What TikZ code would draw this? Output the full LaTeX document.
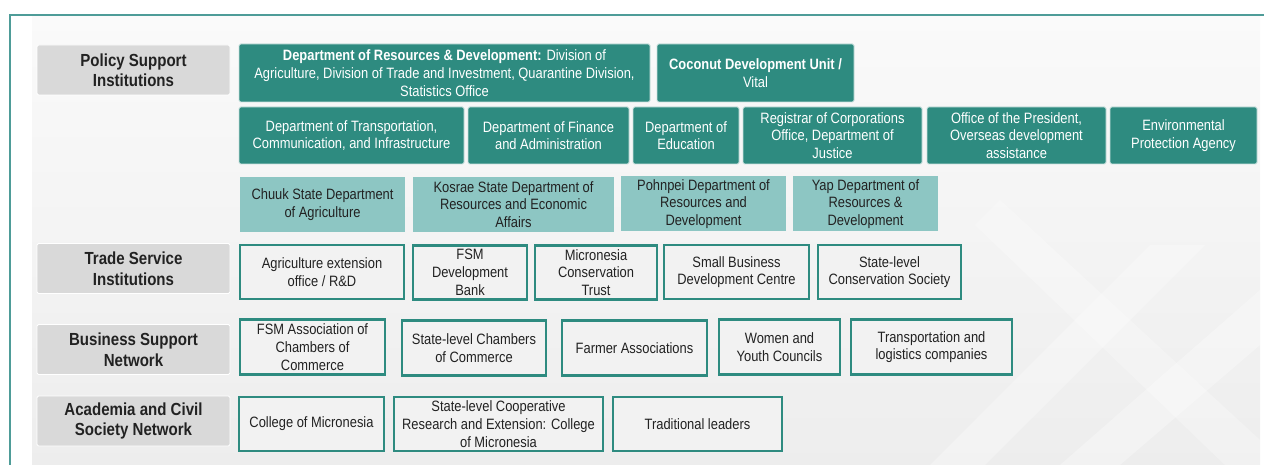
\documentclass[tikz,border=0pt]{standalone}
\usepackage{fontspec}
\setmainfont{Liberation Sans}[FakeStretch=0.86]
\usetikzlibrary{positioning}
\definecolor{darkteal}{HTML}{2E8B80}
\definecolor{paleteal}{HTML}{8DC6C3}
\definecolor{frameteal}{HTML}{4E9C98}
\definecolor{catgrey}{HTML}{D9D9D9}
\definecolor{cellgrey}{HTML}{F2F2F2}
\definecolor{ink}{HTML}{222222}
\newcommand*{\bodyfont}{\fontsize{15}{17.7}\selectfont}
\tikzset{
    cat/.style = {fill=catgrey,draw=white,line width=0.8pt,rounded corners=1.5pt,
        inner sep=0,align=center,text=ink,font=\fontsize{17.5}{20.5}\selectfont\bfseries},
    gov/.style = {fill=darkteal,draw=white!75!darkteal,line width=0.8pt,rounded corners=1.5pt,
        inner sep=0,align=center,text=white,font=\bodyfont},
    statedept/.style = {fill=paleteal,inner sep=0,align=center,text=ink,font=\bodyfont},
    inst/.style = {fill=cellgrey,draw=darkteal,line width=2.6pt,
        inner sep=0,align=center,text=ink,font=\bodyfont}
}

\begin{document}
\begin{tikzpicture}[x=1pt,y=-1pt]
    \useasboundingbox (0,0) rectangle (1264,465);
    % Panel and frame
    \shade[top color=black!2,bottom color=black!7] (32,17) rectangle (1260,465);
    \fill[white,opacity=0.3] (930,465) -- (1150,245) -- (1205,245) -- (985,465) -- cycle;
    \fill[white,opacity=0.3] (1060,465) -- (1260,290) -- (1260,345) -- (1120,465) -- cycle;
    \fill[white,opacity=0.25] (1000,200) -- (1260,440) -- (1260,465) -- (1225,465) -- (975,225) -- cycle;
    \draw[frameteal,line width=2.5pt] (10,465) -- (10,15) -- (1264,15);
    % Categories
    \foreach \name/\ypos/\txt in {policy/70/Policy Support\\Institutions,
                                 trade/268.5/Trade Service\\Institutions,
                                 business/349.5/Business Support\\Network,
                                 academia/421/Academia and Civil\\Society Network}
        \path node[cat,minimum width=193pt,minimum height=50pt] (\name) at (133.5,\ypos) {\txt};
    % National government
    \path node[gov,minimum width=411pt,minimum height=58pt] (resdev) at (444.5,73)
            {\textbf{Department of Resources \& Development:} Division of\\
             Agriculture, Division of Trade and Investment, Quarantine Division,\\
             Statistics Office}
        node[gov,minimum width=197pt,minimum height=58pt] (coconut) at (755.5,73)
            {\textbf{Coconut Development Unit /}\\Vital}
    ;
    \path node[gov,minimum width=225pt,minimum height=57pt] (transport) at (351.5,135.5)
            {Department of Transportation,\\Communication, and Infrastructure}
        node[gov,minimum width=161pt,minimum height=57pt] (finance) at (548.5,135.5)
            {Department of Finance\\and Administration}
        node[gov,minimum width=106pt,minimum height=57pt] (education) at (686,135.5)
            {Department of\\Education}
        node[gov,minimum width=179pt,minimum height=57pt] (registrar) at (832.5,135.5)
            {Registrar of Corporations\\Office, Department of\\Justice}
        node[gov,minimum width=179pt,minimum height=57pt] (president) at (1016.5,135.5)
            {Office of the President,\\Overseas development\\assistance}
        node[gov,minimum width=147pt,minimum height=57pt] (epa) at (1183.5,135.5)
            {Environmental\\Protection Agency}
    ;
    % State departments
    \path node[statedept,minimum width=165pt,minimum height=55pt] (chuuk) at (322.5,204.5)
            {Chuuk State Department\\of Agriculture}
        node[statedept,minimum width=201pt,minimum height=55pt] (kosrae) at (513.5,204.5)
            {Kosrae State Department of\\Resources and Economic\\Affairs}
        node[statedept,minimum width=165pt,minimum height=55pt] (pohnpei) at (703.5,204)
            {Pohnpei Department of\\Resources and\\Development}
        node[statedept,minimum width=145pt,minimum height=55pt] (yap) at (865.5,204)
            {Yap Department of\\Resources \&\\Development}
    ;
    % Trade services
    \path node[inst,minimum width=164pt,minimum height=54pt] (extension) at (322,272)
            {Agriculture extension\\office / R\&D}
        node[inst,minimum width=114pt,minimum height=54pt] (bank) at (470,272.5)
            {FSM\\Development\\Bank}
        node[inst,minimum width=122pt,minimum height=54pt] (trust) at (596,272.5)
            {Micronesia\\Conservation\\Trust}
        node[inst,minimum width=145pt,minimum height=54pt] (sbdc) at (736.5,272)
            {Small Business\\Development Centre}
        node[inst,minimum width=143pt,minimum height=54pt] (society) at (889.5,272)
            {State-level\\Conservation Society}
    ;
    % Business support
    \path node[inst,minimum width=145pt,minimum height=55pt] (association) at (312.5,347)
            {FSM Association of\\Chambers of\\Commerce}
        node[inst,minimum width=144pt,minimum height=55pt] (chambers) at (474,348)
            {State-level Chambers\\of Commerce}
        node[inst,minimum width=145pt,minimum height=55pt] (farmers) at (634.5,348)
            {Farmer Associations}
        node[inst,minimum width=121pt,minimum height=55pt] (councils) at (779.5,347)
            {Women and\\Youth Councils}
        node[inst,minimum width=161pt,minimum height=55pt] (logistics) at (931.5,347)
            {Transportation and\\logistics companies}
    ;
    % Academia and civil society
    \path node[inst,minimum width=145pt,minimum height=54pt] (college) at (311.5,424)
            {College of Micronesia}
        node[inst,minimum width=209pt,minimum height=54pt] (cooperative) at (498.5,424)
            {State-level Cooperative\\Research and Extension: College\\of Micronesia}
        node[inst,minimum width=169pt,minimum height=54pt] (leaders) at (697.5,424)
            {Traditional leaders}
    ;
\end{tikzpicture}
\end{document}
